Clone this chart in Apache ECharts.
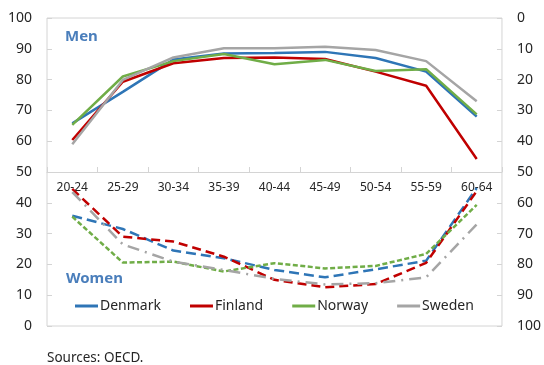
<!DOCTYPE html>
<html><head><meta charset="utf-8">
<script src="https://cdn.jsdelivr.net/npm/echarts@6/dist/echarts.min.js"></script>
<style>html,body{margin:0;padding:0;background:#fff}#c{width:544px;height:365px}</style>
</head><body><div id="c"></div>
<script>
// Age groups
const categories = ['20-24','25-29','30-34','35-39','40-44','45-49','50-54','55-59','60-64'];
const countries = ['Denmark','Finland','Norway','Sweden'];

// Men (left axis)
const menDenmark = [65.8, 76.0, 86.5, 88.5, 88.6, 89.0, 87.0, 82.6, 68.0];
const menFinland = [60.4, 79.3, 85.3, 87.0, 87.2, 86.7, 82.6, 78.0, 54.2];
const menNorway  = [65.3, 81.0, 86.0, 88.3, 85.0, 86.4, 82.8, 83.4, 68.7];
const menSweden  = [59.0, 79.9, 87.2, 90.2, 90.2, 90.7, 89.6, 86.0, 73.0];

// Women (right axis, inverted)
const womenDenmark = [64.2, 68.5, 75.5, 78.0, 81.8, 84.2, 81.6, 78.8, 55.2];
const womenFinland = [55.5, 71.0, 72.6, 77.5, 85.0, 87.4, 86.4, 79.5, 56.2];
const womenNorway  = [64.5, 79.4, 79.1, 82.3, 79.6, 81.3, 80.5, 76.6, 60.7];
const womenSweden  = [56.5, 73.5, 79.1, 81.8, 84.7, 86.5, 86.1, 84.2, 67.0];

const colors = {Denmark:'#2E75B6', Finland:'#C00000', Norway:'#70AD47', Sweden:'#A5A5A5'};
const dashes = {Denmark:[10,5], Finland:[9,5], Norway:[5,2.5], Sweden:[12,6,2,6]};
const menData = {Denmark:menDenmark, Finland:menFinland, Norway:menNorway, Sweden:menSweden};
const womenData = {Denmark:womenDenmark, Finland:womenFinland, Norway:womenNorway, Sweden:womenSweden};

const FONT = 'Noto Sans';
const TXT = '#262626';
const GRIDC = '#d4d4d4';

const series = [];
countries.forEach(c => {
  series.push({
    name: c, type: 'line', yAxisIndex: 0, data: menData[c],
    symbol: 'none', color: colors[c],
    lineStyle: {width: 2.5, color: colors[c]}
  });
});
countries.forEach(c => {
  series.push({
    name: c + ' (women)', type: 'line', yAxisIndex: 1, data: womenData[c],
    symbol: 'none', color: colors[c],
    lineStyle: {width: 2.5, color: colors[c], type: dashes[c], cap: 'butt'}
  });
});

const chart = echarts.init(document.getElementById('c'), null, {renderer: 'canvas'});
chart.setOption({
  animation: false,
  backgroundColor: '#fff',
  textStyle: {fontFamily: FONT},
  grid: {left: 47, right: 42, top: 18, bottom: 39, show: true, borderColor: GRIDC, borderWidth: 1},
  title: [
    {text: 'Men', left: 65, top: 28, padding: 0, textStyle: {fontFamily: FONT, fontSize: 15, fontWeight: 'bold', color: '#4A7EBB', lineHeight: 18}},
    {text: 'Women', left: 66, top: 270, padding: 0, textStyle: {fontFamily: FONT, fontSize: 15, fontWeight: 'bold', color: '#4A7EBB', lineHeight: 18}},
    {text: 'Sources: OECD.', left: 47, top: 350, padding: 0, textStyle: {fontFamily: FONT, fontSize: 13.5, fontWeight: 'normal', color: TXT, lineHeight: 16}}
  ],
  legend: {
    data: countries, left: 75, top: 299, itemGap: 29, itemWidth: 23, itemHeight: 3,
    icon: 'rect', padding: 0,
    textStyle: {fontFamily: FONT, fontSize: 14, color: TXT, padding: [0,0,0,-3]}
  },
  xAxis: {
    type: 'category', data: categories, offset: -154,
    axisLine: {show: true, lineStyle: {color: GRIDC, width: 1}},
    axisTick: {show: true, inside: true, length: 5, lineStyle: {color: GRIDC}},
    axisLabel: {fontFamily: FONT, fontSize: 12, color: TXT, margin: 10},
    splitLine: {show: false}
  },
  yAxis: [
    {type: 'value', min: 0, max: 100, interval: 10, position: 'left',
     axisLine: {show: false}, axisTick: {show: true, inside: true, length: 5, lineStyle: {color: GRIDC}},
     axisLabel: {fontFamily: FONT, fontSize: 14, color: TXT, margin: 15},
     splitLine: {show: false}},
    {type: 'value', min: 0, max: 100, interval: 10, position: 'right', inverse: true,
     axisLine: {show: false}, axisTick: {show: true, inside: true, length: 5, lineStyle: {color: GRIDC}},
     axisLabel: {fontFamily: FONT, fontSize: 14, color: TXT, margin: 15, align: 'left'},
     splitLine: {show: false}}
  ],
  series: series
});
</script>
</body></html>
